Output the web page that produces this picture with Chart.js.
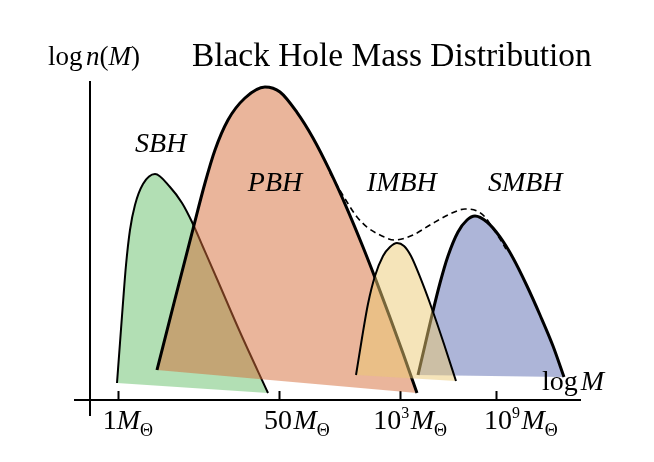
<!DOCTYPE html>
<html>
<head>
<meta charset="utf-8">
<script src="https://cdn.jsdelivr.net/npm/chart.js@4.4.1/dist/chart.umd.min.js"></script>
<style>
  html, body { margin: 0; padding: 0; background: #fff; }
  #wrap { width: 654px; height: 462px; }
</style>
</head>
<body>
<div id="wrap"><canvas id="massChart" width="654" height="462"></canvas></div>
<script>
// x ~ log M, y ~ log n(M), both in arbitrary units (0..100)
const sbhX = [5.51, 6.12, 6.73, 7.35, 8.16, 9.18, 10.82, 13.27, 16.33, 18.78, 20.82, 23.06, 25.92, 30.61, 36.33];
const sbhY = [5.35, 17.92, 30.5, 42.45, 53.46, 61.32, 67.92, 71.07, 66.98, 61.95, 55.97, 48.11, 38.05, 21.38, 2.2];

const pbhX = [13.67, 17.35, 21.02, 23.47, 25.51, 28.16, 31.63, 35.71, 38.78, 42.24, 45.51, 48.98, 52.45, 55.71, 58.16, 61.22, 63.88, 66.73];
const pbhY = [9.43, 31.76, 53.77, 68.24, 78.62, 88.05, 94.97, 98.43, 96.86, 90.44, 82.39, 71.95, 60.19, 48.11, 38.49, 25.97, 14.72, 2.2];

const imbhX = [54.29, 55.51, 56.73, 58.16, 59.8, 61.22, 62.65, 64.08, 65.51, 67.35, 69.8, 72.24, 74.69];
const imbhY = [7.86, 19.5, 30.19, 38.99, 45.28, 48.11, 49.37, 48.43, 45.28, 38.68, 28.62, 17.61, 5.97];

const smbhX = [66.94, 68.37, 69.8, 71.43, 73.06, 75.1, 76.94, 78.57, 81.02, 83.67, 86.33, 89.18, 91.84, 94.49, 96.73];
const smbhY = [7.86, 17.3, 26.73, 36.79, 45.28, 52.83, 56.6, 57.86, 55.97, 51.26, 44.65, 35.85, 26.73, 16.98, 7.23];

// dashed envelope
const totalX = [48.98, 52.45, 54.49, 56.53, 59.18, 62.24, 65.92, 69.39, 73.47, 76.53, 78.98, 80.61, 82.04, 83.67, 84.9];
const totalY = [71.38, 62.26, 57.55, 54.4, 51.89, 50.31, 51.89, 55.03, 58.49, 60.06, 59.43, 57.55, 54.4, 50.63, 47.48];

// x axis ticks: 1, 50, 10^3, 10^9 solar masses
const tickValues = [5.9, 38.6, 63.3, 82.9];
const tickNums = ['1', '50', '10', '10'];
const tickExps = ['', '', '3', '9'];

const pts = (xs, ys) => xs.map((x, i) => ({ x: x, y: ys[i] }));

const serif = '"Liberation Serif", "Times New Roman", "DejaVu Serif", serif';

function drawRuns(ctx, x, y, runs) {
    runs.forEach(([text, size, italic, dy]) => {
        ctx.font = (italic ? 'italic ' : '') + size + 'px ' + serif;
        ctx.fillText(text, x, y + (dy || 0));
        x += ctx.measureText(text).width;
    });
}

// all the text: title, axis names, tick labels with M_sun, population names
const textPlugin = {
    id: 'texts',
    afterDraw(chart) {
        const ctx = chart.ctx;
        const xs = chart.scales.x;
        const ys = chart.scales.y;
        ctx.save();
        ctx.fillStyle = '#000';
        ctx.textBaseline = 'alphabetic';
        ctx.textAlign = 'left';

        drawRuns(ctx, 192, 66, [['Black Hole Mass Distribution', 33.4]]);
        drawRuns(ctx, 48, 65, [['log', 27], [' ', 14], ['n', 27, true], ['(', 27], ['M', 27, true], [')', 27]]);
        drawRuns(ctx, 542, 390, [['log', 28], [' ', 12], ['M', 28, true]]);

        const labelAt = [2.6, 35.5, 57.8, 80.4];
        tickValues.forEach((v, i) => {
            const runs = [[tickNums[i], 28]];
            if (tickExps[i]) runs.push([tickExps[i], 16, false, -11], [' ', 6]);
            else if (i > 0) runs.push([' ', 6]);
            runs.push(['M', 28, true], ['\u0398', 18, false, 7]);
            drawRuns(ctx, xs.getPixelForValue(labelAt[i]), 429, runs);
        });

        const names = [['SBH', 9.2, 78.0], ['PBH', 32.2, 65.7], ['IMBH', 56.5, 65.7], ['SMBH', 81.2, 65.7]];
        names.forEach(([t, x, y]) => {
            drawRuns(ctx, xs.getPixelForValue(x), ys.getPixelForValue(y), [[t, 28, true]]);
        });
        ctx.restore();
    }
};

const ctx = document.getElementById('massChart').getContext('2d');
const massChart = new Chart(ctx, {
    type: 'line',
    data: {
        datasets: [
            {
                label: 'SBH',
                data: pts(sbhX, sbhY),
                borderColor: '#000',
                borderWidth: 2,
                backgroundColor: 'rgba(101, 191, 105, 0.5)',
                fill: 'shape',
                order: 5
            },
            {
                label: 'PBH',
                data: pts(pbhX, pbhY),
                borderColor: '#000',
                borderWidth: 3,
                backgroundColor: 'rgba(213, 107, 55, 0.5)',
                fill: 'shape',
                order: 4
            },
            {
                label: 'SMBH',
                data: pts(smbhX, smbhY),
                borderColor: '#000',
                borderWidth: 3,
                backgroundColor: 'rgba(91, 107, 177, 0.5)',
                fill: 'shape',
                order: 3
            },
            {
                label: 'IMBH',
                data: pts(imbhX, imbhY),
                borderColor: '#000',
                borderWidth: 2,
                backgroundColor: 'rgba(235, 201, 115, 0.5)',
                fill: 'shape',
                order: 2
            },
            {
                label: 'total',
                data: pts(totalX, totalY),
                borderColor: '#000',
                borderWidth: 1.6,
                borderDash: [6, 4],
                fill: false,
                order: 1
            }
        ]
    },
    options: {
        responsive: false,
        animation: false,
        layout: { padding: { left: 75, right: 74, top: 82, bottom: 47 } },
        elements: {
            point: { radius: 0 },
            line: { cubicInterpolationMode: 'monotone', borderCapStyle: 'butt', borderJoinStyle: 'round' }
        },
        plugins: {
            legend: { display: false },
            tooltip: { enabled: false },
            title: { display: false }
        },
        scales: {
            x: {
                type: 'linear',
                min: -3.06,
                max: 100,
                position: { y: 0 },
                border: { color: '#000', width: 2 },
                grid: { drawOnChartArea: false, drawTicks: true, tickLength: -10, tickColor: '#000', tickWidth: 2 },
                ticks: { display: false },
                afterBuildTicks: scale => {
                    scale.ticks = tickValues.map(v => ({ value: v }));
                }
            },
            y: {
                type: 'linear',
                min: -4.72,
                max: 100,
                position: { x: 0 },
                border: { color: '#000', width: 2 },
                grid: { display: false },
                ticks: { display: false }
            }
        }
    },
    plugins: [textPlugin]
});
</script>
</body>
</html>
